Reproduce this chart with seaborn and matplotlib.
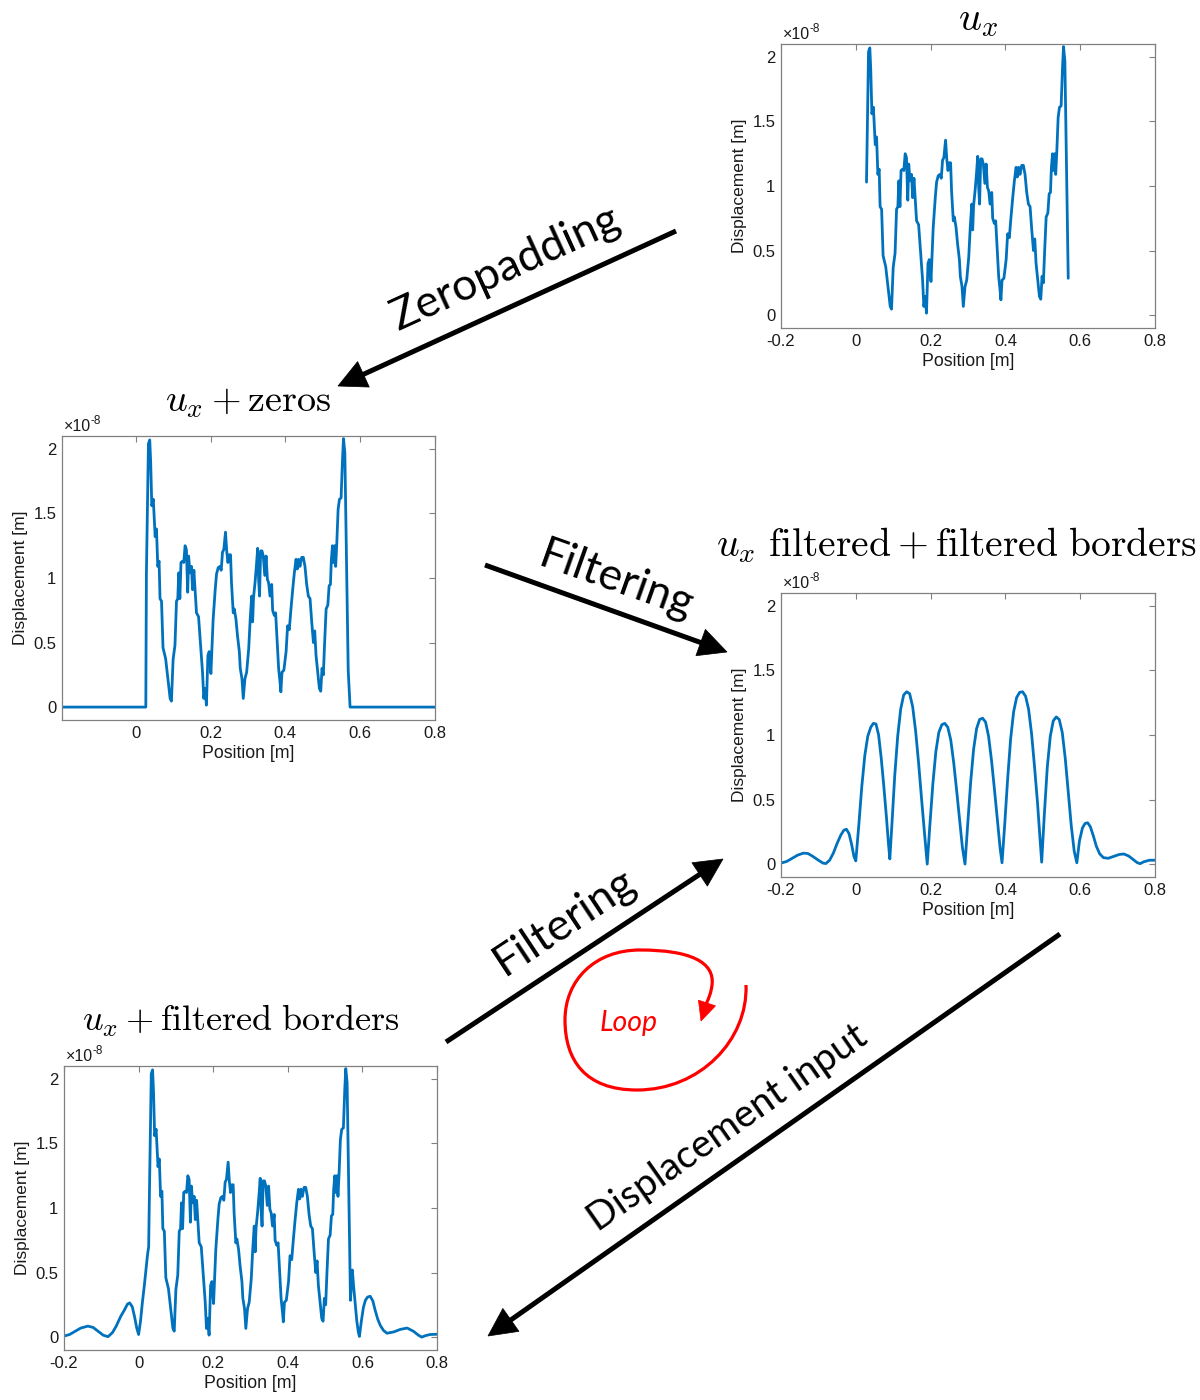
import numpy as np
import matplotlib
matplotlib.use("Agg")
import matplotlib.pyplot as plt
import seaborn as sns
from matplotlib.patches import Polygon, PathPatch
from matplotlib.path import Path
from matplotlib.ticker import FuncFormatter

# ---------------- data (displacement in units of 1e-8 m) ----------------
ux_pos = [0.0286, 0.0340, 0.0375, 0.0400, 0.0430, 0.0470, 0.0520, 0.0555, 0.0590, 0.0625,
          0.0650, 0.0690, 0.0730, 0.0800, 0.0860, 0.0920, 0.0955, 0.1000, 0.1050, 0.1090,
          0.1125, 0.1150, 0.1180, 0.1210, 0.1250, 0.1285, 0.1320, 0.1355, 0.1390, 0.1415,
          0.1450, 0.1490, 0.1520, 0.1555, 0.1590, 0.1625, 0.1680, 0.1740, 0.1786, 0.1820,
          0.1855, 0.1890, 0.1930, 0.1965, 0.2010, 0.2035, 0.2070, 0.2125, 0.2160, 0.2205,
          0.2250, 0.2285, 0.2320, 0.2355, 0.2400, 0.2435, 0.2465, 0.2500, 0.2535, 0.2560,
          0.2607, 0.2635, 0.2680, 0.2720, 0.2770, 0.2795, 0.2840, 0.2875, 0.2920, 0.2965,
          0.3020, 0.3060, 0.3100, 0.3125, 0.3150, 0.3190, 0.3225, 0.3260, 0.3285, 0.3310,
          0.3340, 0.3375, 0.3410, 0.3450, 0.3485, 0.3520, 0.3555, 0.3590, 0.3635, 0.3660,
          0.3705, 0.3740, 0.3777, 0.3820, 0.3857, 0.3880, 0.3910, 0.3960, 0.4020, 0.4060,
          0.4105, 0.4150, 0.4196, 0.4240, 0.4286, 0.4320, 0.4355, 0.4390, 0.4437, 0.4480,
          0.4525, 0.4570, 0.4615, 0.4660, 0.4705, 0.4750, 0.4785, 0.4820, 0.4866, 0.4910,
          0.4946, 0.4980, 0.5015, 0.5050, 0.5090, 0.5135, 0.5170, 0.5205, 0.5230, 0.5260,
          0.5285, 0.5320, 0.5345, 0.5375, 0.5410, 0.5446, 0.5490, 0.5527, 0.5554, 0.5590,
          0.5680]
ux_disp = [1.03, 2.04, 2.07, 1.90, 1.56, 1.61, 1.32, 1.38, 1.09, 1.13,
           0.84, 0.82, 0.46, 0.375, 0.22, 0.067, 0.046, 0.37, 0.48, 0.82,
           0.84, 1.04, 0.84, 1.12, 1.13, 1.12, 1.25, 1.22, 0.89, 1.17,
           1.04, 1.09, 0.91, 1.06, 0.90, 0.73, 0.70, 0.45, 0.27, 0.067,
           0.144, 0.015, 0.40, 0.43, 0.26, 0.43, 0.68, 0.91, 1.03, 1.08,
           1.09, 1.06, 1.20, 1.22, 1.355, 1.20, 1.12, 1.18, 1.18, 0.965,
           0.73, 0.76, 0.68, 0.555, 0.43, 0.30, 0.22, 0.067, 0.22, 0.27,
           0.45, 0.68, 0.86, 0.66, 0.85, 0.965, 1.09, 1.23, 0.99, 0.86,
           1.21, 1.21, 1.17, 1.02, 1.17, 0.99, 0.96, 0.86, 0.95, 0.75,
           0.71, 0.73, 0.53, 0.30, 0.195, 0.118, 0.27, 0.285, 0.43, 0.63,
           0.60, 0.76, 0.91, 1.04, 1.145, 1.07, 1.145, 1.09, 1.16, 1.16,
           1.09, 0.95, 0.86, 0.84, 0.66, 0.50, 0.59, 0.40, 0.27, 0.144,
           0.123, 0.30, 0.25, 0.50, 0.76, 0.79, 0.94, 0.95, 1.145, 1.25,
           1.12, 1.25, 1.09, 1.27, 1.53, 1.61, 1.62, 1.915, 2.08, 1.97,
           0.285]

zeros_left_pos = [-0.197, 0.027]
zeros_left_disp = [0.0, 0.0]
zeros_right_pos = [0.573, 0.800]
zeros_right_disp = [0.0, 0.0]

filt_pos = [-0.200, -0.185, -0.170, -0.155, -0.140, -0.128, -0.115, -0.100, -0.088, -0.080,
            -0.070, -0.060, -0.050, -0.040, -0.032, -0.025, -0.018, -0.011, -0.005, 0.000,
            0.008, 0.016, 0.024, 0.032, 0.040, 0.047, 0.054, 0.061, 0.068, 0.075, 0.082, 0.087, 0.091,
            0.097, 0.104, 0.112, 0.120, 0.128, 0.136, 0.144, 0.152, 0.160, 0.168, 0.176, 0.184, 0.191,
            0.198, 0.206, 0.214, 0.222, 0.230, 0.238, 0.246, 0.254, 0.262, 0.270, 0.278, 0.285, 0.292,
            0.299, 0.307, 0.315, 0.323, 0.331, 0.339, 0.347, 0.355, 0.363, 0.371, 0.379, 0.386, 0.391,
            0.398, 0.406, 0.414, 0.422, 0.430, 0.438, 0.446, 0.454, 0.462, 0.470, 0.478, 0.486, 0.492, 0.497,
            0.504, 0.512, 0.520, 0.528, 0.536, 0.544, 0.552, 0.560, 0.568, 0.576, 0.584, 0.591,
            0.598, 0.606, 0.613, 0.620, 0.627, 0.635, 0.643, 0.652, 0.662, 0.675, 0.690, 0.705,
            0.717, 0.730, 0.742, 0.752, 0.760, 0.770, 0.785, 0.800]
filt_disp = [0.008, 0.020, 0.045, 0.070, 0.085, 0.082, 0.060, 0.030, 0.008, 0.004,
             0.030, 0.085, 0.160, 0.225, 0.262, 0.270, 0.235, 0.150, 0.060, 0.025,
             0.30, 0.60, 0.84, 0.99, 1.06, 1.09, 1.085, 1.00, 0.82, 0.60, 0.36, 0.17, 0.04,
             0.33, 0.68, 0.99, 1.20, 1.31, 1.335, 1.32, 1.22, 1.03, 0.78, 0.50, 0.23, 0.00,
             0.30, 0.62, 0.87, 1.02, 1.08, 1.09, 1.06, 0.96, 0.78, 0.56, 0.33, 0.13, 0.00,
             0.30, 0.63, 0.89, 1.05, 1.12, 1.13, 1.10, 0.99, 0.80, 0.57, 0.33, 0.12, 0.01,
             0.30, 0.66, 0.97, 1.18, 1.29, 1.33, 1.335, 1.30, 1.20, 1.01, 0.75, 0.47, 0.22, 0.015,
             0.38, 0.75, 0.99, 1.11, 1.14, 1.12, 1.02, 0.82, 0.56, 0.30, 0.10, 0.01,
             0.18, 0.28, 0.315, 0.32, 0.29, 0.22, 0.14, 0.08, 0.05, 0.045, 0.06, 0.075,
             0.078, 0.062, 0.035, 0.012, 0.003, 0.018, 0.030, 0.030]

border_left_pos = [-0.200, -0.185, -0.170, -0.155, -0.136, -0.122, -0.109, -0.095, -0.082, -0.070,
                   -0.060, -0.048, -0.038, -0.030, -0.024, -0.017, -0.011, -0.005, 0.000, 0.005,
                   0.010, 0.015, 0.019, 0.024, 0.027]
border_left_disp = [0.008, 0.020, 0.045, 0.070, 0.085, 0.075, 0.046, 0.015, 0.003, 0.035,
                    0.085, 0.160, 0.210, 0.255, 0.265, 0.235, 0.160, 0.070, 0.020, 0.120,
                    0.265, 0.390, 0.500, 0.640, 0.700]
border_right_pos = [0.573, 0.5766, 0.581, 0.5848, 0.589, 0.592, 0.597, 0.6027, 0.608, 0.614,
                    0.621, 0.628, 0.634, 0.641, 0.648, 0.657, 0.666, 0.684, 0.702, 0.720,
                    0.737, 0.750, 0.759, 0.770, 0.782, 0.800]
border_right_disp = [0.52, 0.39, 0.25, 0.13, 0.04, 0.005, 0.12, 0.23, 0.285, 0.31,
                     0.316, 0.28, 0.21, 0.14, 0.09, 0.05, 0.03, 0.04, 0.06, 0.07,
                     0.045, 0.015, 0.0, 0.012, 0.02, 0.022]

x_ticks_full = [-0.2, 0, 0.2, 0.4, 0.6, 0.8]
x_ticks_pad = [0, 0.2, 0.4, 0.6, 0.8]
y_ticks = [0, 0.5, 1, 1.5, 2]

# ---------------- style ----------------
sns.set_theme(style="white")
plt.rcParams["font.family"] = ["Liberation Sans", "DejaVu Sans"]
plt.rcParams["mathtext.fontset"] = "cm"
plt.rcParams["axes.unicode_minus"] = False

BLUE = "#0072BD"
GRAY = "#808080"
TXT = "#1a1a1a"

fig = plt.figure(figsize=(12, 14), dpi=100)
W, H = 1200.0, 1400.0


def add_ax(left, top, right, bottom):
    return fig.add_axes([left / W, 1 - bottom / H, (right - left) / W, (bottom - top) / H])


fmt = FuncFormatter(lambda v, p: f"{v:g}")


def style(ax, xlim, xticks):
    ax.set_xlim(*xlim)
    ax.set_ylim(-0.1, 2.1)
    ax.set_xticks(xticks)
    ax.set_yticks(y_ticks)
    ax.xaxis.set_major_formatter(fmt)
    ax.yaxis.set_major_formatter(fmt)
    ax.tick_params(direction="in", length=4, width=0.8, color=GRAY, top=True, right=True,
                   labelsize=12, labelcolor=TXT, pad=4)
    for s in ax.spines.values():
        s.set_color(GRAY)
        s.set_linewidth(0.9)
        s.set_visible(True)
    ax.set_xlabel("Position [m]", fontsize=12.8, color=TXT, labelpad=3)
    ax.set_ylabel("Displacement [m]", fontsize=12.5, color=TXT)
    ax.text(0.005, 1.018, "\u00d710", transform=ax.transAxes, fontsize=11.5, color=TXT,
            ha="left", va="baseline")
    ax.annotate("-8", xy=(0.005, 1.018), xycoords="axes fraction", xytext=(19.5, 5),
                textcoords="offset points", fontsize=8.5, color=TXT, ha="left", va="baseline")


def line(ax, x, y):
    sns.lineplot(x=np.asarray(x), y=np.asarray(y), ax=ax, color=BLUE, linewidth=2.0,
                 sort=False, estimator=None)


# 1. top right: u_x
ax1 = add_ax(781, 44, 1155, 328)
line(ax1, ux_pos, ux_disp)
style(ax1, (-0.2, 0.8), x_ticks_full)

# 2. middle left: u_x + zeros
ax2 = add_ax(62, 436, 435, 720)
line(ax2, np.concatenate([zeros_left_pos, ux_pos, zeros_right_pos]),
     np.concatenate([zeros_left_disp, ux_disp, zeros_right_disp]))
style(ax2, (-0.197, 0.8), x_ticks_pad)

# 3. middle right: filtered
ax3 = add_ax(781, 593, 1155, 877)
line(ax3, filt_pos, filt_disp)
style(ax3, (-0.2, 0.8), x_ticks_full)

# 4. bottom left: u_x + filtered borders
ax4 = add_ax(64, 1066, 437, 1350)
line(ax4, np.concatenate([border_left_pos, ux_pos, border_right_pos]),
     np.concatenate([border_left_disp, ux_disp, border_right_disp]))
style(ax4, (-0.2, 0.8), x_ticks_full)

# ---------------- overlay (pixel coordinates) ----------------
ov = fig.add_axes([0, 0, 1, 1], zorder=10)
ov.set_xlim(0, W)
ov.set_ylim(H, 0)
ov.axis("off")
ov.patch.set_alpha(0)

ov.text(978, 30, r"$u_x$", fontsize=29, family="cmr10", ha="center", va="baseline",
        color="black")
ov.text(248, 412, r"$u_x + \mathrm{zeros}$", fontsize=27.5, ha="center", va="baseline",
        color="black")
ov.text(957, 556, r"$u_x\ \mathrm{filtered} + \mathrm{filtered\ borders}$", fontsize=28.5,
        ha="center", va="baseline", color="black")
ov.text(241, 1031, r"$u_x + \mathrm{filtered\ borders}$", fontsize=26, ha="center",
        va="baseline", color="black")


def arrow(x0, y0, x1, y1, lw_px=5.0, head_len=28.0, head_w=28.0, color="black"):
    dx, dy = x1 - x0, y1 - y0
    L = np.hypot(dx, dy)
    ux, uy = dx / L, dy / L
    bx, by = x1 - ux * head_len, y1 - uy * head_len
    ov.plot([x0, bx + ux * 3], [y0, by + uy * 3], color=color, lw=lw_px * 0.72,
            solid_capstyle="butt")
    px, py = -uy, ux
    tri = [(x1, y1), (bx + px * head_w / 2, by + py * head_w / 2),
           (bx - px * head_w / 2, by - py * head_w / 2)]
    ov.add_patch(Polygon(tri, closed=True, facecolor=color, edgecolor=color, lw=0.5))


arrow(676, 231, 338, 386)
arrow(485, 565, 727, 652)
arrow(446, 1042, 723, 859)
arrow(1060, 934, 488, 1336)

LF = ["Lato", "DejaVu Sans"]
ov.text(506, 268, "Zeropadding", fontsize=32, family=LF, rotation=24.5, color="black",
        rotation_mode="anchor", ha="center", va="center")
ov.text(616, 580, "Filtering", fontsize=32, family=LF, rotation=-19.5, color="black",
        rotation_mode="anchor", ha="center", va="center")
ov.text(565, 922, "Filtering", fontsize=32, family=LF, rotation=33.5, color="black",
        rotation_mode="anchor", ha="center", va="center")
ov.text(728, 1128, "Displacement input", fontsize=28, family=LF, rotation=35, color="black",
        rotation_mode="anchor", ha="center", va="center")

# loop
RED = "#ff0000"
verts = [(746, 985),
         (748, 1040), (700, 1090), (637, 1090),
         (585, 1090), (565, 1060), (565, 1020),
         (565, 980), (595, 950), (640, 950),
         (690, 950), (715, 962), (712, 985),
         (711, 993), (709, 998), (706, 1004)]
codes = [Path.MOVETO] + [Path.CURVE4] * 15
ov.add_patch(PathPatch(Path(verts, codes), facecolor="none", edgecolor=RED, lw=2.3))
tip = np.array([701.0, 1021.0])
base = np.array([707.0, 1003.0])
d = (tip - base) / np.hypot(*(tip - base))
pp = np.array([-d[1], d[0]])
ov.add_patch(Polygon([tip, base + pp * 9, base - pp * 9], closed=True,
                     facecolor=RED, edgecolor=RED, lw=0.5))
ov.text(629, 1023, "Loop", fontsize=20.5, family=LF, style="italic", color=RED,
        ha="center", va="center")

fig.savefig("out.png", dpi=100)
